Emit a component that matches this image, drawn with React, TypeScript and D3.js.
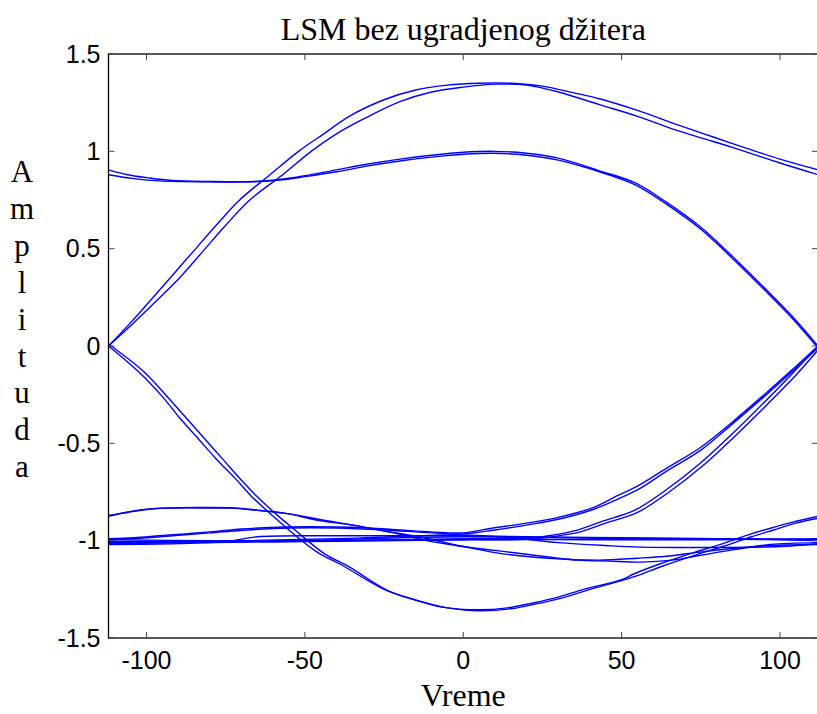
import React from "react";
import * as d3 from "d3";

type Pt = [number, number];

const xTicks = [-100, -50, 0, 50, 100];
const xTickLabels = ["-100", "-50", "0", "50", "100"];
const yTicks = [-1.5, -1, -0.5, 0, 0.5, 1, 1.5];
const yTickLabels = ["-1.5", "-1", "-0.5", "0", "0.5", "1", "1.5"];
const titleText = "LSM bez ugradjenog džitera";
const xLabelText = "Vreme";
const yLabelText = "Amplituda";

// Upper crest traces
const crestOuter: Pt[] = [[-112,0],[-105,0.12],[-99,0.23],[-92,0.36],[-85,0.49],[-78,0.62],[-70.6,0.75],[-61,0.88],[-52,1.0],[-44,1.09],[-36,1.18],[-25,1.265],[-15,1.315],[-5,1.34],[5,1.35],[15,1.35],[25,1.335],[35,1.3],[43,1.27],[55,1.21],[67,1.14],[76,1.09],[85,1.04],[100,0.96],[112,0.905]];
const crestInner: Pt[] = [[-112,0],[-104,0.12],[-97,0.23],[-89,0.36],[-82,0.49],[-75,0.62],[-67.4,0.75],[-57,0.88],[-48,1.0],[-40,1.09],[-31,1.17],[-20,1.255],[-10,1.305],[0,1.33],[10,1.345],[20,1.34],[30,1.305],[43,1.24],[55,1.18],[67,1.11],[76,1.065],[85,1.02],[100,0.94],[112,0.88]];
// Upper middle traces
const upperMidA: Pt[] = [[-112,0.905],[-106,0.88],[-100,0.865],[-92,0.85],[-80,0.845],[-66,0.845],[-58,0.855],[-50,0.875],[-40,0.905],[-30,0.935],[-20,0.96],[-10,0.98],[0,0.995],[10,1.0],[20,0.99],[30,0.965],[43,0.9],[54,0.84],[64,0.74],[75,0.61],[85,0.46],[95,0.3],[104,0.15],[112,0]];
const upperMidB: Pt[] = [[-112,0.88],[-104,0.86],[-96,0.848],[-80,0.843],[-68,0.843],[-58,0.852],[-50,0.87],[-40,0.895],[-30,0.925],[-20,0.95],[-10,0.97],[0,0.985],[10,0.99],[20,0.98],[30,0.955],[43,0.895],[54,0.83],[64,0.73],[75,0.6],[85,0.45],[95,0.29],[104,0.14],[112,-0.01]];
// Lower trough traces
const troughA: Pt[] = [[-112,0],[-102,-0.14],[-95,-0.26],[-89.5,-0.37],[-84,-0.47],[-78,-0.58],[-72,-0.68],[-67,-0.77],[-61,-0.86],[-55.4,-0.94],[-46,-1.06],[-38.4,-1.125],[-25,-1.25],[-15,-1.305],[-7,-1.34],[5,-1.355],[14,-1.345],[22,-1.32],[30,-1.29],[38,-1.25],[50,-1.2],[54,-1.17],[62,-1.12],[73,-1.06],[81,-1.02],[90,-0.97],[97,-0.936],[104,-0.905],[112,-0.875]];
const troughB: Pt[] = [[-112,0.01],[-101,-0.13],[-94,-0.25],[-88,-0.36],[-82,-0.47],[-76,-0.58],[-70,-0.69],[-65,-0.775],[-59,-0.865],[-53.5,-0.94],[-44,-1.065],[-36,-1.135],[-24,-1.255],[-14,-1.31],[-5,-1.345],[5,-1.36],[15,-1.35],[23,-1.325],[31,-1.295],[39,-1.255],[50,-1.205],[55,-1.18],[63,-1.13],[74,-1.07],[82,-1.03],[91,-0.98],[98,-0.945],[105,-0.91],[112,-0.885]];
// Lower rising traces
const riseA1: Pt[] = [[-112,-0.99],[-104,-0.985],[-96,-0.975],[-88,-0.965],[-80,-0.955],[-70,-0.94],[-56,-0.93],[-40,-0.93],[-30,-0.935],[-20,-0.945],[-10,-0.955],[0,-0.96],[9,-0.936],[20,-0.91],[30,-0.88],[41,-0.83],[48.5,-0.77],[55,-0.72],[64,-0.63],[75,-0.52],[85,-0.39],[95,-0.25],[104,-0.12],[112,0]];
const riseA2: Pt[] = [[-112,-0.995],[-100,-0.985],[-90,-0.972],[-80,-0.96],[-68,-0.945],[-55,-0.935],[-40,-0.935],[-25,-0.945],[-10,-0.96],[0,-0.965],[10,-0.945],[20,-0.92],[30,-0.89],[41,-0.84],[49,-0.785],[56,-0.73],[64,-0.645],[75,-0.535],[85,-0.4],[95,-0.26],[104,-0.13],[112,-0.01]];
const riseB1: Pt[] = [[-112,-1.01],[-80,-1.005],[-50,-1.0],[-20,-0.995],[0,-0.99],[15,-0.99],[22,-0.985],[27,-0.975],[36,-0.946],[44,-0.9],[54,-0.845],[64,-0.74],[75,-0.6],[85,-0.45],[95,-0.29],[104,-0.14],[112,0]];
const riseB2: Pt[] = [[-112,-1.015],[-80,-1.01],[-50,-1.005],[-20,-1.0],[0,-0.995],[15,-0.995],[23,-0.99],[28,-0.98],[37,-0.955],[45,-0.91],[55,-0.855],[65,-0.75],[76,-0.61],[86,-0.46],[96,-0.3],[105,-0.15],[112,-0.02]];
// Lower descending traces
const descA: Pt[] = [[-112,-0.87],[-106,-0.855],[-100,-0.84],[-94,-0.833],[-80,-0.832],[-73,-0.833],[-66,-0.843],[-56,-0.86],[-46,-0.895],[-35,-0.92],[-25,-0.95],[-14,-0.98],[0,-1.03],[10,-1.05],[20,-1.07],[36,-1.1],[46,-1.105],[56,-1.11],[66,-1.1],[75,-1.075],[86,-1.045],[97,-1.02],[112,-1.01]];
const descB: Pt[] = [[-112,-0.875],[-105,-0.85],[-98,-0.836],[-85,-0.83],[-72,-0.832],[-64,-0.845],[-54,-0.865],[-44,-0.895],[-33,-0.925],[-22,-0.96],[-10,-1.005],[0,-1.03],[11.5,-1.065],[27,-1.09],[43,-1.1],[55,-1.09],[64,-1.08],[74,-1.06],[85,-1.04],[97,-1.025],[112,-1.02]];
// Lower near-flat traces
const flatA: Pt[] = [[-112,-0.995],[-80,-1.0],[-40,-1.0],[0,-0.995],[40,-0.995],[80,-0.995],[112,-0.99]];
const flatB: Pt[] = [[-112,-1.01],[-80,-1.005],[-50,-1.0],[-20,-0.985],[0,-0.98],[30,-0.985],[60,-0.99],[90,-0.99],[112,-0.995]];
const flatC: Pt[] = [[-112,-1.02],[-90,-1.015],[-75,-1.005],[-65,-0.98],[-40,-0.975],[-20,-0.975],[0,-0.975],[20,-0.98],[50,-0.985],[80,-0.99],[112,-1.0]];
const flatD: Pt[] = [[-112,-1.005],[-70,-1.0],[-40,-0.99],[-15,-0.975],[0,-0.97],[15,-0.985],[30,-1.01],[45,-1.025],[56,-1.033],[80,-1.035],[100,-1.03],[112,-1.015]];

const traces: Pt[][] = [
  crestOuter, crestInner, upperMidA, upperMidB,
  troughA, troughB, riseA1, riseA2, riseB1, riseB2,
  descA, descB, flatA, flatB, flatC, flatD,
];

const W = 817;
const H = 714;
const M = { left: 108.5, right: 818, top: 54, bottom: 638 };

export default function App() {
  const x = d3.scaleLinear().domain([-112, 112]).range([M.left, M.right]);
  const y = d3.scaleLinear().domain([-1.5, 1.5]).range([M.bottom, M.top]);
  const line = d3
    .line<Pt>()
    .x((d) => x(d[0]))
    .y((d) => y(d[1]))
    .curve(d3.curveCatmullRom.alpha(0.5));

  const tickLen = 6;
  const sans = "'Liberation Sans', Arial, Helvetica, sans-serif";
  const serif = "'Liberation Serif', 'Times New Roman', serif";
  const cx = (M.left + M.right) / 2;
  const letters = Array.from(yLabelText);

  return (
    <svg
      width={W}
      height={H}
      viewBox={`0 0 ${W} ${H}`}
      style={{ position: "absolute", left: 0, top: 0, background: "#fff" }}
    >
      <rect x={0} y={0} width={W} height={H} fill="#fff" />
      <defs>
        <clipPath id="plotclip">
          <rect x={M.left} y={M.top} width={M.right - M.left} height={M.bottom - M.top} />
        </clipPath>
      </defs>
      <g clipPath="url(#plotclip)">
        {traces.map((t, i) => (
          <path key={i} d={line(t) || ""} fill="none" stroke="#0000ff" strokeWidth={1.4} />
        ))}
      </g>
      <rect
        x={M.left}
        y={M.top}
        width={M.right - M.left}
        height={M.bottom - M.top}
        fill="none"
        stroke="#000"
        strokeWidth={1.3}
      />
      {xTicks.map((t, i) => (
        <g key={"xt" + i}>
          <line x1={x(t)} x2={x(t)} y1={M.bottom} y2={M.bottom - tickLen} stroke="#444" strokeWidth={1} />
          <line x1={x(t)} x2={x(t)} y1={M.top} y2={M.top + tickLen} stroke="#444" strokeWidth={1} />
          <text
            x={x(t)}
            y={M.bottom + 31}
            textAnchor="middle"
            fontFamily={sans}
            fontSize={25}
            fill="#000"
          >
            {xTickLabels[i]}
          </text>
        </g>
      ))}
      {yTicks.map((t, i) => (
        <g key={"yt" + i}>
          <line x1={M.left} x2={M.left + tickLen} y1={y(t)} y2={y(t)} stroke="#444" strokeWidth={1} />
          <line x1={M.right} x2={M.right - tickLen} y1={y(t)} y2={y(t)} stroke="#444" strokeWidth={1} />
          <text
            x={M.left - 8}
            y={y(t)}
            dy="0.35em"
            textAnchor="end"
            fontFamily={sans}
            fontSize={25}
            fill="#000"
          >
            {yTickLabels[i]}
          </text>
        </g>
      ))}
      <text x={cx} y={40} textAnchor="middle" fontFamily={serif} fontSize={32} fill="#000">
        {titleText}
      </text>
      <text x={cx} y={706} textAnchor="middle" fontFamily={serif} fontSize={32} fill="#000">
        {xLabelText}
      </text>
      {letters.map((ch, i) => (
        <text
          key={"yl" + i}
          x={22}
          y={182 + i * 36.9}
          textAnchor="middle"
          fontFamily={serif}
          fontSize={31}
          fill="#000"
        >
          {ch}
        </text>
      ))}
    </svg>
  );
}
